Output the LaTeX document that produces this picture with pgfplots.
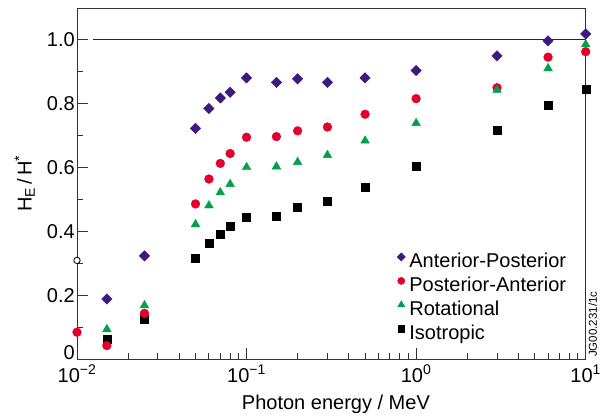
\documentclass[border=0pt]{standalone}
\usepackage{fontspec}
\setmainfont{Liberation Sans}
\usepackage{pgfplots}
\pgfplotsset{compat=1.18}

\definecolor{apcol}{RGB}{62,26,126}
\definecolor{pacol}{RGB}{228,0,43}
\definecolor{rotcol}{RGB}{0,160,75}

\newcommand{\lbl}{\fontsize{20}{24}\selectfont}

\begin{document}
\begin{tikzpicture}
\useasboundingbox (-77pt,-59pt) rectangle (528pt,359pt);
\begin{axis}[
    at={(0,0)}, anchor=south west,
    scale only axis,
    width=508.7pt, height=351pt,
    xmode=log,
    xmin=0.01, xmax=10,
    ymin=0, ymax=1.1,
    xtick={0.01,0.1,1,10},
    xticklabels={10\textsuperscript{−2},10\textsuperscript{−1},10\textsuperscript{0},10\textsuperscript{1}},
    ytick={0,0.2,0.4,0.6,0.8,1.0},
    yticklabels={\raisebox{12pt}{0},0.2,0.4,0.6,0.8,1.0},
    minor ytick={0.1,0.3,0.5,0.7,0.9},
    xtick pos=bottom, ytick pos=left,
    tick align=inside,
    major tick length=11pt, minor tick length=6.5pt,
    every tick/.style={black!80, line width=0.9pt},
    axis line style={black!80, line width=0.9pt},
    tick label style={font=\lbl},
    yticklabel style={inner sep=2pt},
    xticklabel style={inner sep=0pt, yshift=-6pt},
    label style={font=\lbl},
    xlabel={Photon energy / MeV},
    xlabel style={at={(axis description cs:0.509,-0.145)}, anchor=base},
    ylabel={H\textsubscript{E}\,/\,H\textsuperscript{*}},
    ylabel style={at={(axis description cs:-0.089,0.5)}, anchor=base, rotate=0},
    clip=false,
    legend image code/.code={\draw[#1] plot coordinates {(0pt,5.5pt)};},
    legend cell align=left,
    legend style={at={(rel axis cs:0.629,0.31)}, anchor=north west,
        draw=none, fill=none, inner sep=0pt, font=\lbl,
        nodes={text height=15pt, text depth=5pt, inner sep=2pt},
        /tikz/every odd column/.append style={column sep=2pt}},
]

% reference line at 1.0
\addplot[black!85, line width=0.9pt, forget plot] coordinates {(0.01244,1) (10,1)};

% open circle on the axis
\addplot[only marks, mark=*, mark size=3.2pt, mark options={fill=white, draw=black, line width=0.8pt}, forget plot]
    coordinates {(0.01,0.309)};

% Isotropic
\addplot[only marks, mark=square*, mark size=4pt, color=black, mark options={draw=none}, forget plot] coordinates {
    (0.015,0.063) (0.025,0.125) (0.05,0.316) (0.06,0.363) (0.07,0.392)
    (0.08,0.415) (0.1,0.445) (0.15,0.446) (0.2,0.476) (0.3,0.495)
    (0.5,0.539) (1,0.605) (3,0.718) (6,0.795) (10,0.847)
};

% Posterior-Anterior
\addplot[only marks, mark=*, mark size=4.4pt, color=pacol, mark options={draw=none}, forget plot] coordinates {
    (0.01,0.084) (0.015,0.042) (0.025,0.143) (0.05,0.486) (0.06,0.564)
    (0.07,0.613) (0.08,0.644) (0.1,0.695) (0.15,0.697) (0.2,0.715)
    (0.3,0.727) (0.5,0.767) (1,0.816) (3,0.850) (6,0.946) (10,0.963)
};

% Rotational
\addplot[only marks, mark=triangle*, mark size=5pt, color=rotcol, mark options={draw=none}, forget plot] coordinates {
    (0.015,0.093) (0.025,0.168) (0.05,0.422) (0.06,0.481) (0.07,0.522)
    (0.08,0.548) (0.1,0.601) (0.15,0.603) (0.2,0.617) (0.3,0.639)
    (0.5,0.684) (1,0.739) (3,0.843) (6,0.911) (10,0.986)
};

% Anterior-Posterior
\addplot[only marks, mark=square*, mark size=3.7pt, color=apcol, mark options={draw=none, rotate=45}, forget plot] coordinates {
    (0.015,0.188) (0.025,0.323) (0.05,0.723) (0.06,0.785) (0.07,0.818)
    (0.08,0.836) (0.1,0.881) (0.15,0.867) (0.2,0.878) (0.3,0.867)
    (0.5,0.881) (1,0.904) (3,0.950) (6,0.997) (10,1.019)
};

\addlegendimage{only marks, mark=square*, mark size=2.9pt, color=apcol, mark options={draw=none, rotate=45}}
\addlegendentry{Anterior-Posterior}
\addlegendimage{only marks, mark=*, mark size=3.6pt, color=pacol, mark options={draw=none}}
\addlegendentry{Posterior-Anterior}
\addlegendimage{only marks, mark=triangle*, mark size=4.2pt, color=rotcol, mark options={draw=none}}
\addlegendentry{Rotational}
\addlegendimage{only marks, mark=square*, mark size=3.3pt, color=black, mark options={draw=none}}
\addlegendentry{Isotropic}

\node[rotate=90, anchor=west, inner sep=0pt, font=\fontsize{11.5}{13}\selectfont]
    at ([shift={(7pt,2pt)}]rel axis cs:1,0) {JG00.231/1c};
\end{axis}
\end{tikzpicture}
\end{document}
